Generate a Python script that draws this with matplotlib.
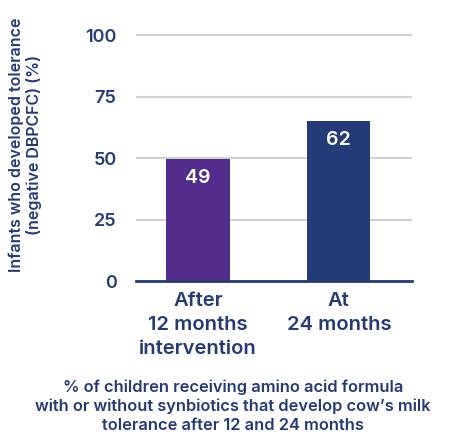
import numpy as np
import matplotlib.pyplot as plt

# data
categories = ["After\n12 months\nintervention", "At\n24 months"]
heights = [49.5, 65]
value_labels = ["49", "62"]
bar_colors = ["#522D8C", "#233C78"]
yticks = [0, 25, 50, 75, 100]

navy = "#263A72"
plt.rcParams['font.family'] = ['Inter', 'DejaVu Sans']

fig = plt.figure(figsize=(4.66, 4.43), dpi=100)
ax = fig.add_axes([136/466, 1-281/443, 276/466, 247/443])

x = np.arange(len(categories))
bars = ax.bar(x, heights, width=0.45, color=bar_colors, zorder=3)
for b, lab in zip(bars, value_labels):
    ax.text(b.get_x()+b.get_width()/2, b.get_height()-4, lab, ha='center', va='top',
            color='white', fontsize=14, fontweight='semibold', zorder=4)

ax.set_xlim(-0.44, 1.52)
ax.set_yticks(yticks)
ax.yaxis.grid(True, color='#d0d0d0', linewidth=1.5, zorder=0)
ax.tick_params(axis='y', length=0, pad=14, labelsize=13, labelcolor=navy)
ax.tick_params(axis='x', length=0, pad=8, labelsize=14.5, labelcolor=navy)
ax.set_xticks(x)
ax.set_xticklabels(categories, fontweight='semibold', linespacing=1.42)
for lab in ax.get_yticklabels():
    lab.set_fontweight('semibold')
for s in ['top', 'right', 'left']:
    ax.spines[s].set_visible(False)
ax.spines['bottom'].set_color(navy)
ax.spines['bottom'].set_linewidth(2)
ax.spines['bottom'].set_zorder(5)
ax.set_ylim(0, 100.5)

fig.text(25/466, 1-145/443, "Infants who developed tolerance\n(negative DBPCFC) (%)",
         rotation=90, ha='center', va='center', color=navy, fontsize=11.5,
         fontweight='semibold', linespacing=1.15)

fig.text(0.5, 1-406/443, "% of children receiving amino acid formula\n"
         "with or without synbiotics that develop cow\u2019s milk\n"
         "tolerance after 12 and 24 months",
         ha='center', va='center', color=navy, fontsize=11.8, fontweight='semibold',
         linespacing=1.3)

fig.savefig("out.png", dpi=100)
